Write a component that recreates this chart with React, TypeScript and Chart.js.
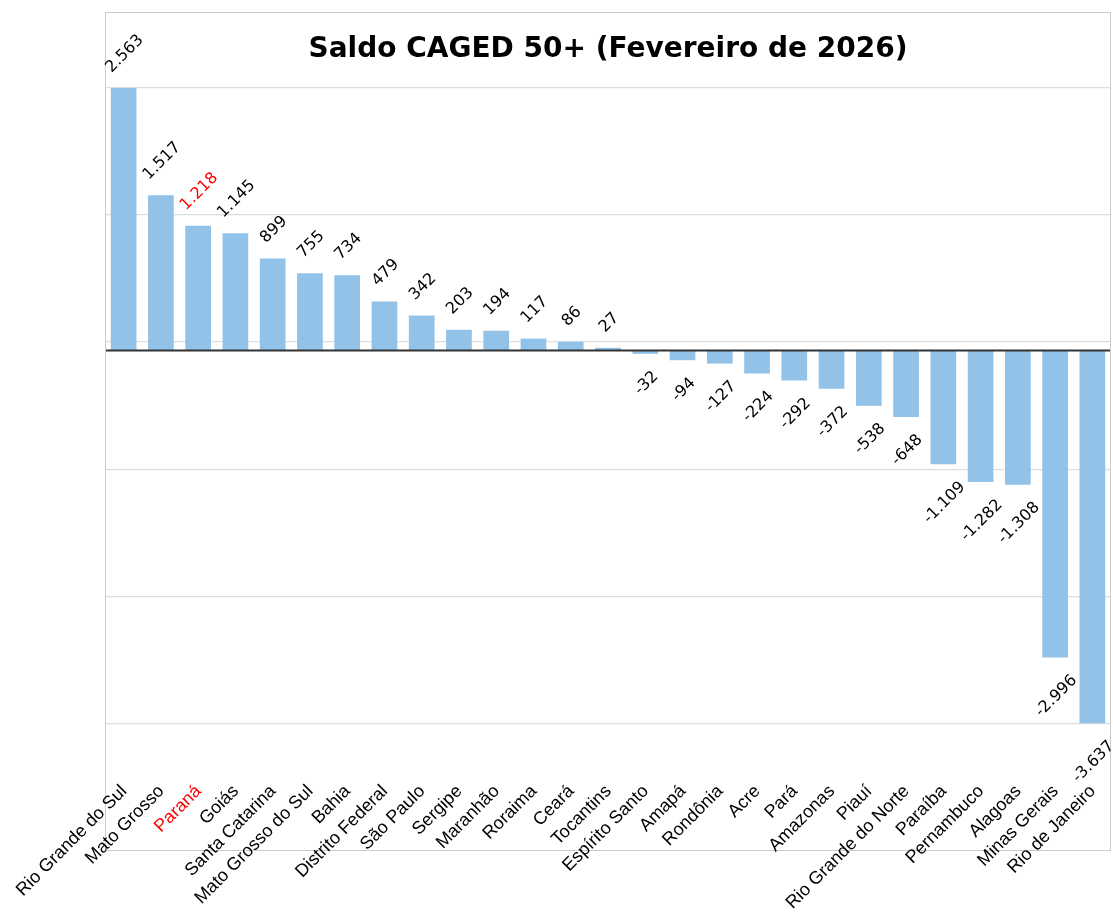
import React, { useEffect, useRef } from "react";
import { Chart, registerables } from "chart.js";

Chart.register(...registerables);

const categories = [
  "Rio Grande do Sul", "Mato Grosso", "Paraná", "Goiás", "Santa Catarina",
  "Mato Grosso do Sul", "Bahia", "Distrito Federal", "São Paulo", "Sergipe",
  "Maranhão", "Roraima", "Ceará", "Tocantins", "Espírito Santo", "Amapá",
  "Rondônia", "Acre", "Pará", "Amazonas", "Piauí", "Rio Grande do Norte",
  "Paraíba", "Pernambuco", "Alagoas", "Minas Gerais", "Rio de Janeiro",
];

const saldo = [
  2563, 1517, 1218, 1145, 899, 755, 734, 479, 342, 203, 194, 117, 86, 27,
  -32, -94, -127, -224, -292, -372, -538, -648, -1109, -1282, -1308, -2996, -3637,
];

const yGridTicks = [2563, 1323, 83, -1157, -2397, -3637];
const yMin = -4883;
const yMax = 3304;

const highlighted = "Paraná";
const titleText = "Saldo CAGED 50+ (Fevereiro de 2026)";

const barColor = "#93c2e8";
const highlightColor = "#ff0000";

function fmt(v: number): string {
  const s = Math.abs(v).toString().replace(/\B(?=(\d{3})+(?!\d))/g, ".");
  return (v < 0 ? "-" : "") + s;
}

const overlayPlugin = {
  id: "overlay",
  afterDatasetsDraw(chart: any) {
    const { ctx, chartArea, scales } = chart;
    const { left, right, top, bottom } = chartArea;
    const x = scales.x;
    const y = scales.y;
    ctx.save();
    // zero line
    const y0 = y.getPixelForValue(0);
    ctx.strokeStyle = "#333333";
    ctx.lineWidth = 2;
    ctx.beginPath();
    ctx.moveTo(left, y0);
    ctx.lineTo(right, y0);
    ctx.stroke();
    // frame
    ctx.strokeStyle = "#cccccc";
    ctx.lineWidth = 1;
    ctx.strokeRect(left + 0.5, top + 0.5, right - left - 1, bottom - top - 1);
    // title
    ctx.fillStyle = "#000000";
    ctx.font = "bold 28px 'DejaVu Sans'";
    ctx.textAlign = "center";
    ctx.textBaseline = "alphabetic";
    ctx.fillText(titleText, (left + right) / 2, 57);

    const meta = chart.getDatasetMeta(0);
    // value labels
    ctx.font = "16px 'DejaVu Sans'";
    const capH = 16 * 0.73;
    meta.data.forEach((bar: any, i: number) => {
      const v = saldo[i];
      const txt = fmt(v);
      const w = ctx.measureText(txt).width;
      const half = (w + capH) / (2 * Math.SQRT2);
      const cx = bar.x;
      const cy = v >= 0 ? bar.y - 15 - half : bar.y + 15 + half;
      ctx.save();
      ctx.translate(cx, cy);
      ctx.rotate(-Math.PI / 4);
      ctx.fillStyle = categories[i] === highlighted ? highlightColor : "#000000";
      ctx.textAlign = "left";
      ctx.textBaseline = "alphabetic";
      ctx.fillText(txt, -w / 2, capH / 2);
      ctx.restore();
    });

    // category labels
    ctx.font = "18px 'Liberation Sans', Arial";
    categories.forEach((c, i) => {
      const px = x.getPixelForValue(i);
      ctx.save();
      ctx.translate(px + 4, 792);
      ctx.rotate(-Math.PI / 4);
      ctx.fillStyle = c === highlighted ? highlightColor : "#000000";
      ctx.textAlign = "right";
      ctx.textBaseline = "alphabetic";
      ctx.fillText(c, 0, 0);
      ctx.restore();
    });
    ctx.restore();
  },
};

export default function App() {
  const ref = useRef<HTMLCanvasElement | null>(null);
  useEffect(() => {
    if (!ref.current) return;
    const chart = new Chart(ref.current, {
      type: "bar",
      data: {
        labels: categories,
        datasets: [
          {
            data: saldo,
            backgroundColor: barColor,
            borderWidth: 0,
            barPercentage: 0.69,
            categoryPercentage: 1,
          },
        ],
      },
      options: {
        animation: false,
        responsive: false,
        devicePixelRatio: 1,
        layout: { padding: { left: 105, right: 2, top: 12, bottom: 61 } },
        plugins: {
          legend: { display: false },
          title: { display: false },
          tooltip: { enabled: false },
        },
        scales: {
          x: { display: false },
          y: {
            display: true,
            min: yMin,
            max: yMax,
            afterBuildTicks: (scale: any) => {
              scale.ticks = yGridTicks.map((v) => ({ value: v }));
            },
            ticks: { display: false },
            border: { display: false },
            grid: { color: "#dddddd", lineWidth: 1.2, drawTicks: false },
          },
        },
      },
      plugins: [overlayPlugin],
    });
    return () => chart.destroy();
  }, []);
  return (
    <div style={{ position: "fixed", left: 0, top: 0, width: 1113, height: 912, background: "#fff" }}>
      <canvas ref={ref} width={1113} height={912} />
    </div>
  );
}
